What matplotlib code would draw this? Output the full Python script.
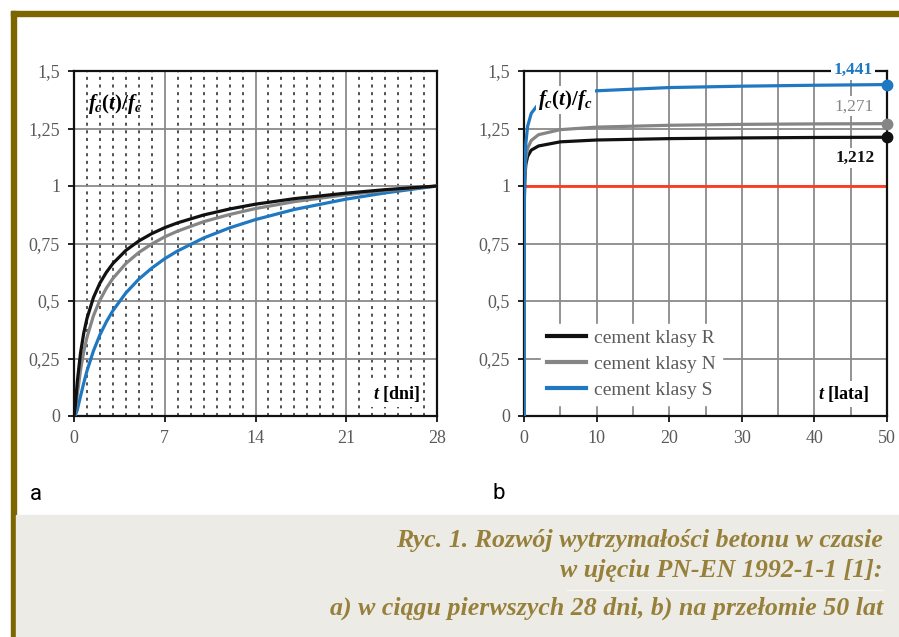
import numpy as np
import matplotlib.pyplot as plt
from matplotlib.patches import Rectangle
from matplotlib.lines import Line2D

# a) first 28 days
days = [0, 0.1, 0.25, 0.5, 0.75, 1, 1.5, 2, 2.5, 3, 4, 5, 6, 7, 8, 10, 12, 14, 17, 21, 24, 28]
early_R = [0, 0.043, 0.147, 0.273, 0.360, 0.424, 0.515, 0.578, 0.625, 0.663, 0.720, 0.761, 0.793,
           0.819, 0.840, 0.874, 0.900, 0.921, 0.945, 0.969, 0.984, 1.0]
early_N = [0, 0.020, 0.091, 0.198, 0.279, 0.342, 0.436, 0.504, 0.556, 0.598, 0.663, 0.711, 0.748,
           0.779, 0.804, 0.845, 0.876, 0.902, 0.932, 0.962, 0.980, 1.0]
early_S = [0, 0.003, 0.026, 0.085, 0.143, 0.196, 0.283, 0.353, 0.410, 0.458, 0.535, 0.595, 0.643,
           0.684, 0.718, 0.774, 0.818, 0.854, 0.898, 0.943, 0.970, 1.0]

# b) 50 years
years = [0, 0.02, 0.05, 0.1, 0.25, 0.5, 1, 2, 5, 10, 20, 30, 40, 50]
long_R = [0, 0.826, 0.953, 1.025, 1.093, 1.129, 1.156, 1.174, 1.192, 1.200, 1.206, 1.209, 1.211, 1.212]
long_N = [0, 0.787, 0.942, 1.031, 1.118, 1.164, 1.198, 1.223, 1.245, 1.256, 1.264, 1.268, 1.270, 1.271]
long_S = [0, 0.695, 0.913, 1.048, 1.185, 1.260, 1.316, 1.357, 1.395, 1.414, 1.428, 1.434, 1.438, 1.441]

labels = ["cement klasy R", "cement klasy N", "cement klasy S"]
colors = ["#111111", "#858585", "#1f78c1"]

yticks = [0, 0.25, 0.5, 0.75, 1, 1.25, 1.5]
ytick_labels = ["0", "0,25", "0,5", "0,75", "1", "1,25", "1,5"]
xticks_a = [0, 7, 14, 21, 28]
xticks_b = [0, 10, 20, 30, 40, 50]

caption = ["Ryc. 1. Rozwój wytrzymałości betonu w czasie",
           "w ujęciu PN-EN 1992-1-1 [1]:",
           "a) w ciągu pierwszych 28 dni, b) na przełomie 50 lat"]

plt.rcParams['font.family'] = 'Liberation Serif'
plt.rcParams['mathtext.fontset'] = 'custom'
plt.rcParams['mathtext.rm'] = 'Liberation Serif:bold'
plt.rcParams['mathtext.it'] = 'Liberation Serif:italic:bold'
plt.rcParams['mathtext.bf'] = 'Liberation Serif:bold'

W, H = 899, 637
fig = plt.figure(figsize=(W / 100, H / 100), dpi=100)

def px_axes(x0, x1, y0, y1):
    return fig.add_axes([x0 / W, 1 - y1 / H, (x1 - x0) / W, (y1 - y0) / H])

gold = "#7d6500"
# frame of the figure box
fig.patches.append(Rectangle((11 / W, 1 - 16 / H), 1, 5 / H, transform=fig.transFigure,
                             color=gold, zorder=0))
fig.patches.append(Rectangle((11 / W, 0), 5 / W, 1 - 11 / H, transform=fig.transFigure,
                             color=gold, zorder=0))
fig.patches.append(Rectangle((16 / W, 0), 1, (H - 515) / H, transform=fig.transFigure,
                             color="#ecebe6", zorder=0))


def style_axes(ax, xmax, xticks):
    ax.set_xlim(0, xmax)
    ax.set_ylim(0, 1.5)
    ax.set_yticks(yticks)
    ax.set_yticklabels(ytick_labels)
    ax.set_xticks(xticks)
    ax.grid(True, which='major', color="#8a8a8a", lw=1.3)
    for s in ax.spines.values():
        s.set_linewidth(1.6)
        s.set_color("#111111")
    ax.tick_params(which='major', direction='out', length=4, width=1.3, color="#111111",
                   labelsize=13, labelcolor="#5a5a5a", pad=6)
    ax.tick_params(which='minor', length=0)


# ---- panel a
ax1 = px_axes(74, 437, 71, 416)
style_axes(ax1, 28, xticks_a)
ax1.xaxis.set_minor_locator(plt.MultipleLocator(1))
ax1.grid(True, which='minor', axis='x', color="#222222", lw=1.1, linestyle=(0, (2, 3)))
for ys, c in zip([early_S, early_N, early_R], colors[::-1]):
    ax1.plot(days, ys, color=c, lw=2.3, zorder=2.6)
ax1.text(0.115, 0.905, r"$f_c(t)/f_c$", transform=ax1.transAxes, ha='center', va='center',
         fontsize=15, zorder=4)
ax1.text(0.89, 0.064, r"$t$ [dni]", transform=ax1.transAxes, ha='center', va='center',
         fontsize=13, fontweight='bold', zorder=4,
         bbox=dict(facecolor='white', edgecolor='none', pad=2))

# ---- panel b
ax2 = px_axes(524, 887, 71, 416)
style_axes(ax2, 50, xticks_b)
ax2.xaxis.set_minor_locator(plt.MultipleLocator(5))
ax2.grid(True, which='minor', axis='x', color="#8a8a8a", lw=1.3)
ax2.axhline(1, color="#ff3b1f", lw=2, zorder=2.5)
for ys, c in zip([long_R, long_N, long_S], colors):
    ax2.plot(years, ys, color=c, lw=2.3, zorder=2.6)
    ax2.plot(years[-1], ys[-1], 'o', color=c, ms=7.5, zorder=2.7, clip_on=False)

offsets = [(-23, -15), (-24, 12.5), (-24.5, 10.5)]
for ys, c, off, w in zip([long_R, long_N, long_S], colors, offsets, ['bold', 'normal', 'bold']):
    ax2.annotate(f"{ys[-1]:.3f}".replace('.', ','), xy=(years[-1], ys[-1]), xytext=off,
                 textcoords='offset points', ha='center', va='center', fontsize=12.5,
                 fontweight=w, color=c, zorder=5, annotation_clip=False,
                 bbox=dict(facecolor='white', edgecolor='none', pad=1.5))

ax2.text(0.115, 0.915, r"$f_c(t)/f_c$", transform=ax2.transAxes, ha='center', va='center',
         fontsize=15, zorder=4, bbox=dict(facecolor='white', edgecolor='none', pad=1.5))
ax2.text(0.879, 0.064, r"$t$ [lata]", transform=ax2.transAxes, ha='center', va='center',
         fontsize=13, fontweight='bold', zorder=4,
         bbox=dict(facecolor='white', edgecolor='none', pad=2))

handles = [Line2D([], [], color=c, lw=3) for c in colors]
leg = ax2.legend(handles, labels, loc='lower left', bbox_to_anchor=(0.02, 0.005),
                 fontsize=14, frameon=True, framealpha=1, edgecolor='white',
                 fancybox=False, handlelength=2.0, handletextpad=0.45, labelspacing=0.42,
                 borderpad=0.3, labelcolor="#5a5a5a")
leg.set_zorder(5)

# panel letters
fig.text(30 / W, 1 - 500 / H, "a", fontsize=16, family='Roboto', va='baseline')
fig.text(492 / W, 1 - 499 / H, "b", fontsize=16, family='Roboto', va='baseline')

# caption
cap_color = "#97803a"
for line, yb in zip(caption, [547, 577, 615]):
    fig.text(883 / W, 1 - yb / H, line, ha='right', va='baseline', fontsize=18.6,
             style='italic', fontweight='bold', color=cap_color)
fig.lines.append(Line2D([567 / W, 883 / W], [1 - 590 / H, 1 - 590 / H],
                        transform=fig.transFigure, color="#f7f6f2", lw=1))

fig.savefig("out.png", dpi=100)
